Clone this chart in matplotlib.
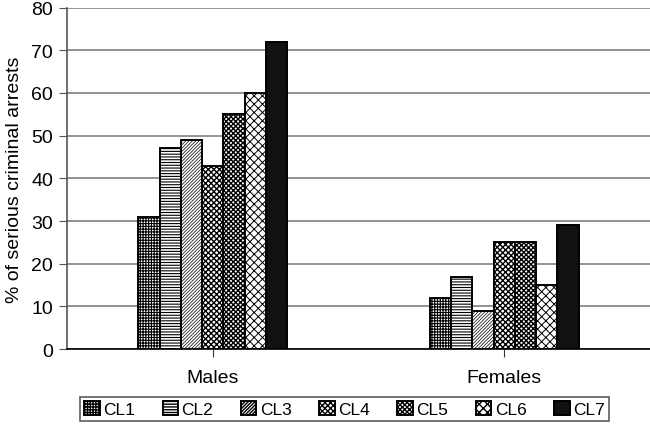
import numpy as np
import matplotlib
matplotlib.use('Agg')
import matplotlib.pyplot as plt

groups = ['Males', 'Females']
classes = ['CL1', 'CL2', 'CL3', 'CL4', 'CL5', 'CL6', 'CL7']
males = [31, 47, 49, 43, 55, 60, 72]
females = [12, 17, 9, 25, 25, 15, 29]
hatches = ['++++++', '------', '//////////', 'xxxxxx', 'xxxxxxx', 'xxxx', '']
hatch_lw = [0.8, 0.8, 0.5, 1.0, 1.0, 0.7, 0.8]
fills = ['white', 'white', 'white', 'white', 'white', 'white', '#111111']

plt.rcParams['font.family'] = ['Liberation Sans', 'DejaVu Sans']

fig = plt.figure(figsize=(6.5, 4.27), dpi=100)
ax = fig.add_axes([0.103, 0.18, 0.897, 0.80])

x = np.arange(len(groups))
w = 0.073
for i, cl in enumerate(classes):
    vals = [males[i], females[i]]
    with plt.rc_context({'hatch.linewidth': hatch_lw[i]}):
        ax.bar(x + (i - 3) * w, vals, w, facecolor=fills[i], edgecolor='black',
               hatch=hatches[i], linewidth=1.4, label=cl, zorder=3)

ax.set_xlim(-0.5, 1.5)
ax.set_ylim(0, 80)
ax.set_yticks(np.arange(0, 81, 10))
ax.yaxis.grid(True, color='#808080', linewidth=1.2, zorder=0)
ax.set_xticks(x)
ax.set_xticklabels(groups, fontsize=14)
ax.tick_params(axis='y', labelsize=14, length=6, color='#555555', pad=4)
ax.tick_params(axis='x', length=6, color='#333333', pad=8)
for s in ['top', 'right']:
    ax.spines[s].set_visible(False)
ax.spines['left'].set_color('#555555')
ax.spines['left'].set_linewidth(1.2)
ax.spines['bottom'].set_color('black')
ax.spines['bottom'].set_linewidth(1.2)
ax.set_ylabel('% of serious criminal arrests', fontsize=14, labelpad=6)

leg = fig.legend(loc='upper center', bbox_to_anchor=(0.53, 0.068), ncol=7,
                 fontsize=12.5, frameon=True, fancybox=False, handlelength=0.9,
                 handleheight=0.9, handletextpad=0.2, columnspacing=1.58,
                 borderpad=0.22, borderaxespad=0)
leg.get_frame().set_edgecolor('#333333')
leg.get_frame().set_linewidth(1.2)

fig.savefig('out.png', dpi=100)
